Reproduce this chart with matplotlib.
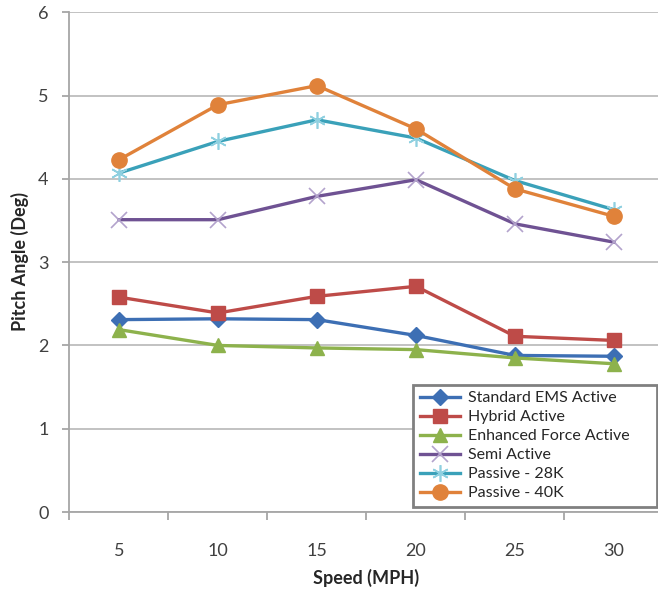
import numpy as np
import matplotlib
matplotlib.use("Agg")
import matplotlib.pyplot as plt

plt.rcParams["font.family"] = ["Lato", "DejaVu Sans"]

speeds = ["5", "10", "15", "20", "25", "30"]

standard_ems = [2.31, 2.32, 2.31, 2.12, 1.88, 1.87]
hybrid = [2.58, 2.39, 2.59, 2.71, 2.11, 2.06]
enhanced_force = [2.19, 2.00, 1.97, 1.95, 1.85, 1.78]
semi_active = [3.51, 3.51, 3.79, 3.99, 3.46, 3.24]
passive_28k = [4.07, 4.45, 4.71, 4.49, 3.98, 3.63]
passive_40k = [4.23, 4.89, 5.12, 4.60, 3.88, 3.55]

# (label, values, line colour, marker, marker size, marker colour)
SERIES = [
    ("Standard EMS Active", standard_ems, "#3d6fb4", "D", 8, "#3d6fb4"),
    ("Hybrid Active", hybrid, "#be4b48", "s", 10, "#be4b48"),
    ("Enhanced Force Active", enhanced_force, "#8db24c", "^", 10, "#8db24c"),
    ("Semi Active", semi_active, "#6f5293", "x", 11, "#b3a3cc"),
    ("Passive - 28K", passive_28k, "#3aa1b9", (6, 2, 0), 12, "#8fd0e0"),
    ("Passive - 40K", passive_40k, "#e0823a", "o", 11, "#e0823a"),
]

fig = plt.figure(figsize=(6.58, 5.98), dpi=100)
ax = fig.add_axes([0.1056, 0.1438, 0.9027, 0.8356])

x = np.arange(1, len(speeds) + 1)
for name, vals, col, mk, ms, mcol in SERIES:
    kw = dict(markerfacecolor=mcol, markeredgecolor=mcol)
    if mk in ("x",) or isinstance(mk, tuple):
        kw["markeredgewidth"] = 1.2
    ax.plot(x, vals, color=col, lw=2.4, marker=mk, ms=ms, label=name, **kw)

ax.set_xlim(0.5, len(speeds) + 0.5)
ax.set_ylim(0, 6)
ax.set_yticks(range(0, 7))
ax.set_xticks(x)
ax.set_xticklabels(speeds)
ax.set_xticks(np.arange(0.5, len(speeds) + 1, 1.0), minor=True)

ax.grid(axis="y", color="#bdbdbd", lw=1.3)
ax.set_axisbelow(True)
for s in ("top", "right"):
    ax.spines[s].set_visible(False)
for s in ("left", "bottom"):
    ax.spines[s].set_color("#a6a6a6")
    ax.spines[s].set_linewidth(1.3)

ax.tick_params(axis="x", which="major", length=0, pad=22, labelsize=13, colors="#404040")
ax.tick_params(axis="x", which="minor", length=6, width=1.3, color="#a6a6a6")
ax.tick_params(axis="y", length=5, width=1.3, color="#a6a6a6", pad=10,
               labelsize=13, labelcolor="#404040")

fig.text(20 / 658, 1 - 262 / 598, "Pitch Angle (Deg)", rotation=90, ha="center", va="center",
         fontsize=13, fontweight="bold", color="#262626")
fig.text(366 / 658, 1 - 578 / 598, "Speed (MPH)", ha="center", va="center",
         fontsize=13, fontweight="bold", color="#262626")

leg = fig.legend(loc="upper left", bbox_to_anchor=(0.628, 0.1505, 0.371, 0.206),
                 mode="expand", fontsize=11.5, frameon=True, fancybox=False, framealpha=1,
                 handlelength=2.5, handletextpad=0.5, labelspacing=0.3,
                 borderpad=0.4, borderaxespad=0)
leg.get_frame().set_edgecolor("#808080")
leg.get_frame().set_linewidth(2)
for t in leg.get_texts():
    t.set_color("#262626")

fig.savefig("out.png", dpi=100, facecolor="white")
